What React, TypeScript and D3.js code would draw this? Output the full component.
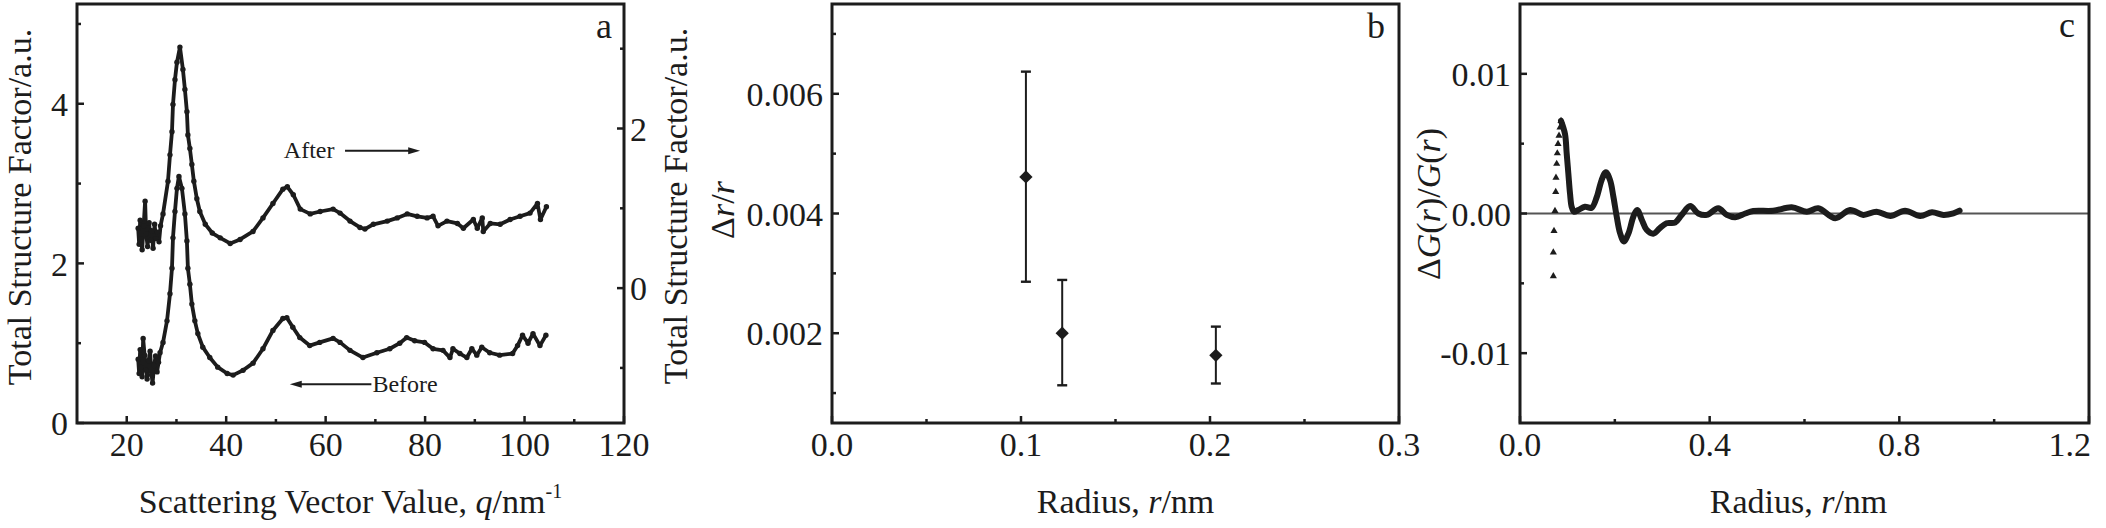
import React from "react";
import * as d3 from "d3";

const W = 2106;
const H = 528;
const FONT = '"Liberation Serif", "Times New Roman", Times, serif';
const INK = "#1c1c1c";

// ---- panel a : total structure factor, before (left axis) / after (right axis)
const beforeQ = [
  22.3, 22.5, 22.7, 22.9, 23.1, 23.3, 23.6, 23.9, 24.1, 24.4, 24.7, 25.0, 25.2, 25.5, 25.8, 26.1, 26.4, 26.7,
  27.3, 28.1, 28.7, 29.1, 29.3, 29.7, 30.1, 30.5, 31.1, 31.7, 32.1, 32.3, 32.7, 33.1, 33.7, 34.3, 35.3, 36.7,
  38.3, 40.2, 41.4, 43.4, 45.4, 47.4, 49.4, 51.4, 52.2, 53.4, 54.8, 56.8, 58.8, 61.5, 62.9, 64.9, 67.5, 70.3,
  72.9, 74.9, 76.3, 77.9, 79.9, 81.6, 83.6, 85.0, 85.6, 87.0, 88.4, 89.4, 90.4, 91.4, 93.0, 95.0, 97.6, 98.6,
  99.6, 100.7, 101.7, 103.1, 104.3,
];
const beforeS = [
  0.8, 0.62, 0.92, 0.7, 0.58, 1.06, 0.85, 0.66, 0.55, 0.78, 0.9, 0.6, 0.5, 0.72, 0.84, 0.64, 0.76, 0.88,
  1.01, 1.28, 1.62, 1.94, 2.32, 2.65, 2.94, 3.09, 2.94, 2.62, 2.28, 1.94, 1.74, 1.49, 1.28, 1.12, 0.95, 0.82,
  0.7, 0.62, 0.6, 0.66, 0.75, 0.93, 1.16, 1.31, 1.32, 1.2, 1.07, 0.97, 1.01, 1.06, 1.01, 0.91, 0.82, 0.88,
  0.93, 1.0, 1.07, 1.03, 1.01, 0.93, 0.91, 0.82, 0.93, 0.87, 0.82, 0.93, 0.85, 0.95, 0.88, 0.85, 0.87, 0.97,
  1.1, 1.0, 1.12, 0.97, 1.1,
];
const afterQ = [
  22.3, 22.5, 22.7, 22.9, 23.1, 23.4, 23.7, 23.9, 24.2, 24.5, 24.8, 25.0, 25.3, 25.6, 25.9, 26.2, 26.5, 26.8,
  27.3, 28.3, 28.7, 29.1, 29.3, 29.7, 30.1, 30.7, 31.3, 31.7, 32.1, 32.3, 32.7, 33.1, 33.5, 34.1, 34.7, 35.8,
  37.2, 38.8, 40.8, 42.8, 45.4, 47.4, 49.4, 51.4, 52.3, 53.5, 54.9, 56.9, 58.9, 61.5, 62.9, 64.9, 66.9, 67.9,
  69.6, 72.4, 74.4, 76.4, 78.4, 80.4, 81.6, 82.6, 84.4, 86.5, 87.7, 89.7, 90.5, 91.5, 91.7, 93.1, 95.1, 97.1,
  99.1, 101.1, 102.6, 103.2, 104.4,
];
const afterS = [
  0.75, 0.55, 0.85, 0.62, 0.48, 0.78, 1.09, 0.68, 0.52, 0.82, 0.6, 0.72, 0.5, 0.8, 0.62, 0.7, 0.58, 0.78,
  0.93, 1.34, 1.67, 1.96, 2.3, 2.61, 2.83, 3.02, 2.74, 2.49, 2.21, 1.92, 1.75, 1.55, 1.34, 1.12, 0.96, 0.8,
  0.69, 0.63, 0.56, 0.61, 0.71, 0.88, 1.06, 1.24, 1.27, 1.17, 0.99, 0.93, 0.96, 0.99, 0.94, 0.84, 0.76, 0.74,
  0.8, 0.84, 0.88, 0.93, 0.9, 0.88, 0.9, 0.78, 0.84, 0.81, 0.75, 0.86, 0.75, 0.88, 0.71, 0.81, 0.8, 0.86,
  0.9, 0.94, 1.06, 0.86, 1.02,
];
const aXMajor = [20, 40, 60, 80, 100, 120];
const aXMinor = [30, 50, 70, 90, 110];
const aYMajor = [0, 2, 4];
const aYMinor = [1, 3, 5];
const aRMajor = [0, 2];
const aRMinor = [-1, 1, 3];

// ---- panel b : relative radius change with error bars
const bRadius = [0.1026, 0.1218, 0.2031];
const bValue = [0.00461, 0.002, 0.00163];
const bHigh = [0.00637, 0.00289, 0.00211];
const bLow = [0.00286, 0.00113, 0.00116];
const bXMajor = [0, 0.1, 0.2, 0.3];
const bXMinor = [0.05, 0.15, 0.25];
const bYMajor = [0.002, 0.004, 0.006];
const bYMinor = [0.001, 0.003, 0.005, 0.007];

// ---- panel c : delta G(r) / G(r)
const cRiseR = [0.0703, 0.0703, 0.0717, 0.0738, 0.0753, 0.0759, 0.0774, 0.0787, 0.0802, 0.0823, 0.0844, 0.0865];
const cRiseV = [-0.00448, -0.00278, -0.00124, 0.00018, 0.00155, 0.00257, 0.00356, 0.00431, 0.00498, 0.00557, 0.00616, 0.00663];
const cR = [
  0.0865, 0.0949, 0.0985, 0.102, 0.1055, 0.109, 0.114, 0.123, 0.137, 0.151, 0.162, 0.172, 0.181, 0.19, 0.197,
  0.204, 0.211, 0.219, 0.229, 0.239, 0.247, 0.257, 0.267, 0.281, 0.295, 0.309, 0.327, 0.341, 0.359, 0.376,
  0.394, 0.418, 0.436, 0.454, 0.475, 0.492, 0.534, 0.573, 0.605, 0.629, 0.665, 0.696, 0.724, 0.752, 0.781,
  0.812, 0.844, 0.869, 0.893, 0.914, 0.927,
];
const cV = [
  0.00663, 0.00569, 0.00427, 0.00285, 0.00143, 0.00048, 0.00013, 0.00025, 0.00048, 0.00041, 0.00119, 0.00238,
  0.00296, 0.00238, 0.00119, -0.00023, -0.0014, -0.002, -0.0014, -0.00023, 0.00025, -0.00046, -0.00117,
  -0.00145, -0.00105, -0.0007, -0.00065, -0.0001, 0.00053, 0, -0.0001, 0.00037, -0.0001, -0.00027, 0, 0.00018,
  0.0002, 0.00044, 0.00013, 0.00037, -0.00034, 0.00025, -0.0001, 0.00013, -0.00018, 0.0002, -0.00018, 0.00009,
  -0.0001, 0.00001, 0.0002,
];
const cXMajor = [0, 0.4, 0.8, 1.2];
const cXMinor = [0.2, 0.6, 1.0];
const cYMajor = [-0.01, 0, 0.01];
const cYMinor = [-0.005, 0.005];

const TOP = 4;
const BOTTOM = 423;
const TICK_LABEL_Y = 456;
const TITLE_Y = 513;
const FS = 34;

type Lin = d3.ScaleLinear<number, number>;
const hy = (s: string) => s.replace("\u2212", "-");

function XAxis({
  x, major, minor, fmt, endRight = false,
}: { x: Lin; major: number[]; minor: number[]; fmt: (v: number) => string; endRight?: boolean }) {
  const last = major[major.length - 1];
  return (
    <g>
      {major.map((v) => (
        <line key={"M" + v} x1={x(v)} x2={x(v)} y1={BOTTOM} y2={BOTTOM - 7} stroke={INK} strokeWidth={2.5} />
      ))}
      {minor.map((v) => (
        <line key={"m" + v} x1={x(v)} x2={x(v)} y1={BOTTOM} y2={BOTTOM - 4} stroke={INK} strokeWidth={2.5} />
      ))}
      {major.map((v) => {
        // the last label of the right-most panel sits flush with the picture edge
        const flush = endRight && v === last;
        return (
          <text
            key={"t" + v}
            x={flush ? x(v) + 2 : x(v)}
            y={TICK_LABEL_Y}
            textAnchor={flush ? "end" : "middle"}
            fontSize={FS}
            fill={INK}
          >
            {fmt(v)}
          </text>
        );
      })}
    </g>
  );
}

function YAxis({
  y, x0, side, major, minor, fmt,
}: { y: Lin; x0: number; side: 1 | -1; major: number[]; minor: number[]; fmt: (v: number) => string }) {
  // side 1: left axis (ticks point right), -1: right axis (ticks point left)
  return (
    <g>
      {major.map((v) => (
        <line key={"M" + v} x1={x0} x2={x0 + 7 * side} y1={y(v)} y2={y(v)} stroke={INK} strokeWidth={2.5} />
      ))}
      {minor.map((v) => (
        <line key={"m" + v} x1={x0} x2={x0 + 4 * side} y1={y(v)} y2={y(v)} stroke={INK} strokeWidth={2.5} />
      ))}
      {major.map((v) => (
        <text
          key={"t" + v}
          x={side === 1 ? x0 - 9 : x0 + 6}
          y={y(v)}
          dy="0.36em"
          textAnchor={side === 1 ? "end" : "start"}
          fontSize={FS}
          fill={INK}
        >
          {fmt(v)}
        </text>
      ))}
    </g>
  );
}

function Frame({ x0, x1 }: { x0: number; x1: number }) {
  return <rect x={x0} y={TOP} width={x1 - x0} height={BOTTOM - TOP} fill="none" stroke={INK} strokeWidth={3} />;
}

function PanelA() {
  const x0 = 77, x1 = 624;
  const x = d3.scaleLinear().domain([10, 120]).range([x0, x1]);
  const yL = d3.scaleLinear().domain([0, 5.25]).range([BOTTOM, TOP]);
  const yR = d3.scaleLinear().domain([-1.69, 3.56]).range([BOTTOM, TOP]);

  const beforeLine = d3
    .line<number>()
    .x((q) => x(q))
    .y((_, i) => yL(beforeS[i]));
  const afterLine = d3
    .line<number>()
    .x((q) => x(q))
    .y((_, i) => yR(afterS[i]));

  const arrowY1 = yL(3.41);
  const arrowY2 = yL(0.486);

  return (
    <g>
      <path d={beforeLine(beforeQ) ?? ""} fill="none" stroke={INK} strokeWidth={3.8} strokeLinejoin="round" />
      <path d={afterLine(afterQ) ?? ""} fill="none" stroke={INK} strokeWidth={3.8} strokeLinejoin="round" />
      {beforeQ.map((q, i) => (
        <circle key={"b" + i} cx={x(q)} cy={yL(beforeS[i])} r={2.7} fill={INK} />
      ))}
      {afterQ.map((q, i) => (
        <circle key={"a" + i} cx={x(q)} cy={yR(afterS[i])} r={2.7} fill={INK} />
      ))}

      {/* annotations */}
      <text x={x(51.6)} y={yL(3.32)} fontSize={24} fill={INK}>After</text>
      <line x1={x(63.9)} x2={x(77.5)} y1={arrowY1} y2={arrowY1} stroke={INK} strokeWidth={2} />
      <path
        d={`M${x(79)},${arrowY1} L${x(76.6)},${arrowY1 - 3.5} L${x(76.6)},${arrowY1 + 3.5} Z`}
        fill={INK}
      />
      <text x={x(69.4)} y={yL(0.386)} fontSize={24} fill={INK}>Before</text>
      <line x1={x(69.2)} x2={x(54.3)} y1={arrowY2} y2={arrowY2} stroke={INK} strokeWidth={2} />
      <path
        d={`M${x(52.8)},${arrowY2} L${x(55.2)},${arrowY2 - 3.5} L${x(55.2)},${arrowY2 + 3.5} Z`}
        fill={INK}
      />

      <Frame x0={x0} x1={x1} />
      <XAxis x={x} major={aXMajor} minor={aXMinor} fmt={d3.format("d")} />
      <YAxis y={yL} x0={x0} side={1} major={aYMajor} minor={aYMinor} fmt={d3.format("d")} />
      <YAxis y={yR} x0={x1} side={-1} major={aRMajor} minor={aRMinor} fmt={d3.format("d")} />

      <text x={x1 - 12} y={38} textAnchor="end" fontSize={36} fill={INK}>a</text>
      <text transform={`translate(31,207) rotate(-90)`} textAnchor="middle" fontSize={FS} fill={INK}>
        Total Structure Factor/a.u.
      </text>
      <text transform={`translate(687,206) rotate(-90)`} textAnchor="middle" fontSize={FS} fill={INK}>
        Total Structure Factor/a.u.
      </text>
      <text x={(x0 + x1) / 2} y={TITLE_Y} textAnchor="middle" fontSize={FS} fill={INK}>
        Scattering Vector Value, <tspan fontStyle="italic">q</tspan>/nm
        <tspan fontSize={20} dy={-15}>-1</tspan>
      </text>
    </g>
  );
}

function PanelB() {
  const x0 = 832, x1 = 1399;
  const x = d3.scaleLinear().domain([0, 0.3]).range([x0, x1]);
  const y = d3.scaleLinear().domain([0.0005, 0.0075]).range([BOTTOM, TOP]);
  const diamond = d3.symbol(d3.symbolSquare, 88)();

  return (
    <g>
      {bRadius.map((r, i) => (
        <g key={i}>
          <line x1={x(r)} x2={x(r)} y1={y(bLow[i])} y2={y(bHigh[i])} stroke={INK} strokeWidth={2} />
          <line x1={x(r) - 5} x2={x(r) + 5} y1={y(bHigh[i])} y2={y(bHigh[i])} stroke={INK} strokeWidth={2.4} />
          <line x1={x(r) - 5} x2={x(r) + 5} y1={y(bLow[i])} y2={y(bLow[i])} stroke={INK} strokeWidth={2.4} />
          <path d={diamond ?? ""} transform={`translate(${x(r)},${y(bValue[i])}) rotate(45)`} fill={INK} />
        </g>
      ))}
      <Frame x0={x0} x1={x1} />
      <XAxis x={x} major={bXMajor} minor={bXMinor} fmt={d3.format(".1f")} />
      <YAxis y={y} x0={x0} side={1} major={bYMajor} minor={bYMinor} fmt={d3.format(".3f")} />
      <text x={x1 - 14} y={38} textAnchor="end" fontSize={36} fill={INK}>b</text>
      <text transform={`translate(734,210) rotate(-90)`} textAnchor="middle" fontSize={FS} fill={INK}>
        Δ<tspan fontStyle="italic">r</tspan>/<tspan fontStyle="italic">r</tspan>
      </text>
      <text x={(x0 + x1) / 2 + 10} y={TITLE_Y} textAnchor="middle" fontSize={FS} fill={INK}>
        Radius, <tspan fontStyle="italic">r</tspan>/nm
      </text>
    </g>
  );
}

function PanelC() {
  const x0 = 1520, x1 = 2089;
  const x = d3.scaleLinear().domain([0, 1.2]).range([x0, x1]);
  const y = d3.scaleLinear().domain([-0.015, 0.015]).range([BOTTOM, TOP]);
  const tri = d3.symbol(d3.symbolTriangle, 22)();
  const curve = d3
    .line<number>()
    .x((r) => x(r))
    .y((_, i) => y(cV[i]))
    .curve(d3.curveCatmullRom.alpha(0.5));

  return (
    <g>
      <line x1={x0} x2={x1} y1={y(0)} y2={y(0)} stroke="#555" strokeWidth={1.8} />
      <path d={curve(cR) ?? ""} fill="none" stroke={INK} strokeWidth={6} strokeLinejoin="round" strokeLinecap="round" />
      {cRiseR.map((r, i) => (
        <path key={i} d={tri ?? ""} transform={`translate(${x(r)},${y(cRiseV[i])})`} fill={INK} />
      ))}
      <Frame x0={x0} x1={x1} />
      <XAxis x={x} major={cXMajor} minor={cXMinor} fmt={d3.format(".1f")} endRight />
      <YAxis y={y} x0={x0} side={1} major={cYMajor} minor={cYMinor} fmt={(v) => hy(d3.format(".2f")(v))} />
      <text x={x1 - 14} y={37} textAnchor="end" fontSize={36} fill={INK}>c</text>
      <text transform={`translate(1440,204) rotate(-90)`} textAnchor="middle" fontSize={FS} fill={INK}>
        Δ<tspan fontStyle="italic">G</tspan>(<tspan fontStyle="italic">r</tspan>)/<tspan fontStyle="italic">G</tspan>(
        <tspan fontStyle="italic">r</tspan>)
      </text>
      <text x={(x0 + x1) / 2 - 6} y={TITLE_Y} textAnchor="middle" fontSize={FS} fill={INK}>
        Radius, <tspan fontStyle="italic">r</tspan>/nm
      </text>
    </g>
  );
}

const App: React.FC = () => {
  return (
    <div style={{ position: "absolute", left: 0, top: 0 }}>
      <svg width={W} height={H} fontFamily={FONT} style={{ display: "block", background: "#fff" }}>
        <PanelA />
        <PanelB />
        <PanelC />
      </svg>
    </div>
  );
};

export default App;
